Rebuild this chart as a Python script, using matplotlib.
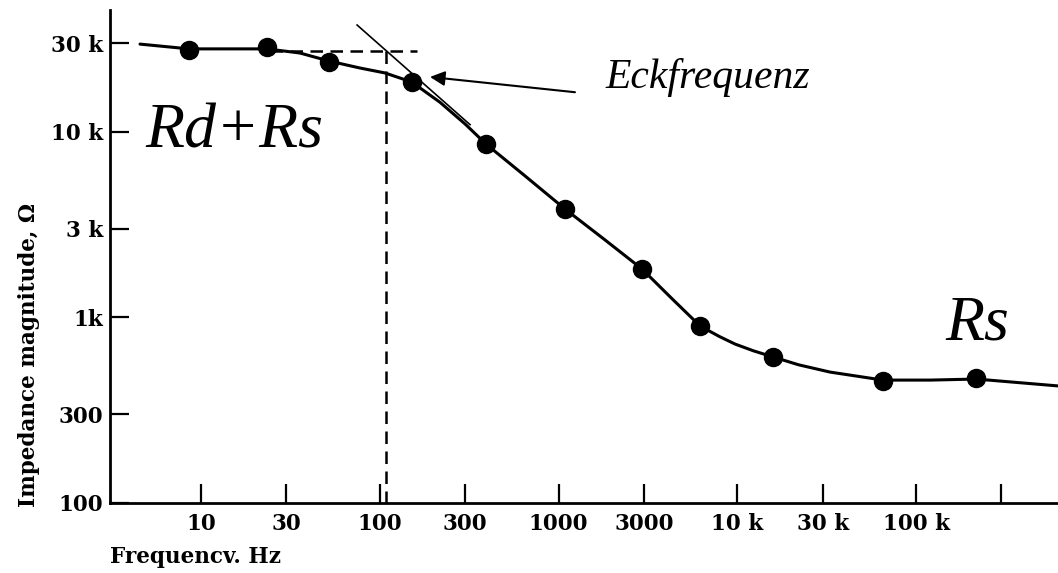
import numpy as np
import matplotlib
matplotlib.use("Agg")
import matplotlib.pyplot as plt

# measured points (Hz, Ohm)
freq_pts = [8.57, 23.4, 52.0, 151, 393, 1087, 2931, 6190, 15900, 65300, 217000]
imp_pts = [27500, 28600, 23700, 18500, 8570, 3830, 1820, 898, 611, 454, 471]

# hand drawn curve through the points
curve_f = [4.56, 8.57, 14.5, 23.4, 35.8, 52.0, 77.6, 107, 151, 217, 300, 393,
           650, 1087, 1820, 2931, 4310, 6190, 7900, 9700, 12300, 15900, 22000,
           33000, 65300, 120000, 217000, 622000]
curve_z = [29600, 27900, 27900, 27900, 26500, 24000, 22000, 20700, 18500,
           14400, 11000, 8570, 5770, 3830, 2610, 1820, 1260, 898, 790, 718,
           660, 611, 555, 507, 459, 459, 465, 427]

# asymptote + corner construction
tangent_f = [74.7, 320]
tangent_z = [37500, 10900]
hline_f = [24.3, 161]
hline_z = [27200, 27200]
vline_f = [108, 108]
vline_z = [27200, 100]

xticks = [10, 30, 100, 300, 1000, 3000, 1e4, 3e4, 1e5, 3e5]
xticklabels = ["10", "30", "100", "300", "1000", "3000", "10 k", "30 k", "100 k", ""]
yticks = [100, 300, 1000, 3000, 1e4, 3e4]
yticklabels = ["100", "300", "1k", "3 k", "10 k", "30 k"]

tick_font = dict(family="DejaVu Serif", weight="bold", size=15.5)

fig = plt.figure(figsize=(10.58, 5.73), dpi=100)
ax = fig.add_axes([0.104, 0.1222, 0.896, 0.8604])
ax.set_xscale("log")
ax.set_yscale("log")
ax.set_xlim(3.10, 6.22e5)
ax.set_ylim(100, 45200)

ax.plot(curve_f, curve_z, color="black", lw=2.2, solid_capstyle="round",
        solid_joinstyle="round", zorder=3)
ax.plot(freq_pts, imp_pts, "o", color="black", ms=13, zorder=4)
ax.plot(tangent_f, tangent_z, color="black", lw=1.2, zorder=3)
ax.plot(hline_f, hline_z, color="black", lw=1.8, ls=(0, (5, 3)), zorder=2)
ax.plot(vline_f, vline_z, color="black", lw=1.8, ls=(0, (5, 3)), zorder=2)

ax.annotate("", xy=(191, 19700), xytext=(1236, 16300),
            arrowprops=dict(arrowstyle="-|>", color="black", lw=1.5,
                            mutation_scale=22, shrinkA=0, shrinkB=0))
ax.text(1820, 17200, "Eckfrequenz", fontsize=30, style="italic",
        family="Liberation Serif", va="baseline")
ax.text(4.86, 8260, "Rd+Rs", fontsize=46, style="italic",
        family="Liberation Serif", va="baseline")
ax.text(145000, 764, "Rs", fontsize=46, style="italic",
        family="Liberation Serif", va="baseline")

ax.set_xticks(xticks)
ax.set_xticklabels(xticklabels, **tick_font)
ax.set_yticks(yticks)
ax.set_yticklabels(yticklabels, **tick_font)
ax.minorticks_off()
ax.tick_params(direction="in", length=14, width=1.6)
ax.tick_params(axis="x", pad=7)
ax.tick_params(axis="y", pad=5)

for s in ["top", "right"]:
    ax.spines[s].set_visible(False)
for s in ["left", "bottom"]:
    ax.spines[s].set_linewidth(2.0)

fig.text(110 / 1058, 1 - 557 / 573, "Frequencv. Hz", ha="left", va="center", **tick_font)
fig.text(29 / 1058, 1 - 355 / 573, "Impedance magnitude, \u03a9", rotation=90,
         ha="center", va="center", **tick_font)

fig.savefig("out.png", dpi=100)
